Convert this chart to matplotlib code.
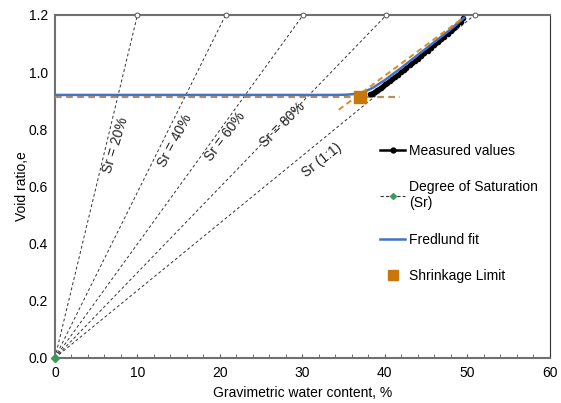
import numpy as np
import matplotlib
matplotlib.use("Agg")
import matplotlib.pyplot as plt
from matplotlib.lines import Line2D

plt.rcParams["font.family"] = ["Liberation Sans", "DejaVu Sans"]

# ── Data ──────────────────────────────────────────────────────────────────────
SR_LABELS = ["Sr = 20%", "Sr = 40%", "Sr = 60%", "Sr = 80%", "Sr (1:1)"]
SR_W_TOP = [10.0, 20.7, 30.1, 40.2, 50.9]     # water content where each Sr line hits e = 1.2
SR_E_TOP = 1.2

measured_w = [38.2, 38.4, 38.6, 38.8, 39.0, 39.3, 39.5, 39.8, 40.0, 40.3, 40.6, 40.9,
              41.2, 41.6, 41.9, 42.3, 42.6, 43.0, 43.3, 43.7, 44.0, 44.4, 44.8, 45.2,
              45.6, 46.0, 46.4, 46.8, 47.2, 47.6, 48.0, 48.4, 48.8, 49.2, 49.5]
measured_e = [0.922, 0.925, 0.928, 0.932, 0.936, 0.941, 0.946, 0.951, 0.957, 0.963, 0.970, 0.976,
              0.983, 0.991, 0.999, 1.007, 1.015, 1.023, 1.031, 1.039, 1.047, 1.057, 1.066, 1.075,
              1.085, 1.094, 1.104, 1.114, 1.124, 1.134, 1.144, 1.154, 1.164, 1.176, 1.188]

fredlund_w = [0.0, 20.0, 34.0, 35.5, 36.5, 37.5, 38.5, 40.0, 42.0, 44.0, 46.0, 48.0, 49.6]
fredlund_e = [0.920, 0.920, 0.920, 0.921, 0.924, 0.931, 0.944, 0.972, 1.015, 1.060, 1.105, 1.150, 1.190]

sl_flat_w = [0.0, 41.8]
sl_flat_e = [0.913, 0.913]
sl_slope_w = [34.4, 49.5]
sl_slope_e = [0.868, 1.190]
shrinkage_w = 37.0
shrinkage_e = 0.913

# label placement for the Sr lines (w, e, rotation in screen degrees)
SR_TEXT = [(7.3, 0.745, 73), (14.6, 0.76, 62), (20.6, 0.775, 53), (27.6, 0.815, 45), (32.4, 0.69, 38)]

ORANGE = "#c8780a"
BLUE = "#4472c4"

fig = plt.figure(figsize=(5.61, 4.03), dpi=100)
ax = fig.add_axes([0.098, 0.112, 0.882, 0.851])

# Degree of saturation lines
for w_top in SR_W_TOP:
    ax.plot([0, w_top], [0, SR_E_TOP], ls=(0, (3, 2.5)), color="#333333", lw=0.7, zorder=2)
    ax.plot([w_top], [SR_E_TOP], marker="o", ms=3.5, mfc="white", mec="#555555", mew=0.7,
            zorder=4, clip_on=False)
ax.plot([0], [0], marker="D", ms=4, color="#3a9a5a", zorder=5, clip_on=False)

for label, (tx, ty, rot) in zip(SR_LABELS, SR_TEXT):
    ax.text(tx, ty, label, rotation=rot, ha="center", va="center", fontsize=10,
            rotation_mode="anchor", color="#222222")

# Shrinkage limit construction lines
ax.plot(sl_flat_w, sl_flat_e, ls=(0, (3, 2)), color="#b98d5a", lw=1.6, zorder=3)
ax.plot(sl_slope_w, sl_slope_e, ls=(0, (3, 2)), color="#e08a1e", lw=1.4, zorder=6)

# Fredlund fit
ax.plot(fredlund_w, fredlund_e, color=BLUE, lw=1.8, zorder=5)

# Measured values
ax.plot(measured_w, measured_e, color="black", lw=2.6, marker="o", ms=3, zorder=4)

# Shrinkage limit
ax.plot([shrinkage_w], [shrinkage_e], marker="s", ms=8, color=ORANGE, zorder=7, ls="none")

ax.set_xlim(0, 60)
ax.set_ylim(0, 1.2)
ax.set_xticks(np.arange(0, 61, 10))
ax.set_xticks(np.arange(0, 61, 2), minor=True)
ax.set_yticks(np.arange(0, 1.21, 0.2))
ax.set_yticklabels([f"{v:.1f}" for v in np.arange(0, 1.21, 0.2)])
ax.tick_params(axis="x", which="both", direction="in", length=3, color="#555555",
               labelsize=10, pad=6)
ax.tick_params(axis="y", which="both", length=0, labelsize=10, pad=5)

for side in ["left", "bottom", "top"]:
    ax.spines[side].set_color("#707070")
    ax.spines[side].set_linewidth(1.5)
ax.spines["right"].set_color("#333333")
ax.spines["right"].set_linewidth(0.8)

ax.set_xlabel("Gravimetric water content, %", fontsize=10, labelpad=4)
ax.set_ylabel("Void ratio,e", fontsize=10, labelpad=0)

handles = [
    Line2D([], [], color="black", lw=1.8, marker="o", ms=3.5),
    Line2D([], [], color="#333333", lw=0.8, ls=(0, (3, 2)), marker="D", ms=3, mfc="#3a9a5a", mec="#3a9a5a"),
    Line2D([], [], color=BLUE, lw=1.8),
    Line2D([], [], color=ORANGE, marker="s", ms=7, ls="none"),
]
labels = ["Measured values", "Degree of Saturation\n(Sr)", "Fredlund fit", "Shrinkage Limit"]
ax.legend(handles, labels, loc="upper left", bbox_to_anchor=(0.632, 0.66), frameon=False,
          fontsize=10, labelspacing=1.6, handlelength=1.8, handletextpad=0.25)

fig.savefig("out.png", dpi=100)
